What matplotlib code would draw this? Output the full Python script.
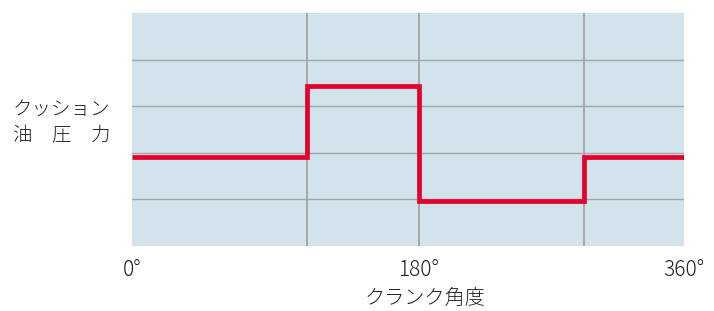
import matplotlib.pyplot as plt
import numpy as np

plt.rcParams['font.family'] = ['Noto Sans CJK JP', 'DejaVu Sans']

# step edges in crank angle (deg) and cushion pressure level between them
edges = [0, 114, 187, 295, 360]
levels = [1.9, 3.43, 0.97, 1.9]

vlines = [114, 187, 295]
hlines = [1, 2, 3, 4]

tick_pos = [0, 187, 360]
tick_labels = ['0°', '180°', '360°']

ylabel = 'クッション\n油\u3000圧\u3000力'
xlabel = 'クランク角度'

bg = '#d2e3eb'
grid_col = '#a3a7a9'
red = '#e5002d'
txt = '#231f20'

fig = plt.figure(figsize=(7.14, 3.11), dpi=100)
ax = fig.add_axes([132 / 714, 1 - 246 / 311, 552 / 714, 233 / 311])
ax.set_facecolor(bg)
ax.set_xlim(0, 360)
ax.set_ylim(0, 5)

for y in hlines:
    ax.axhline(y, color=grid_col, lw=1.0, zorder=1)
for x in vlines:
    ax.axvline(x, color=grid_col, lw=1.4, zorder=1)

# step line
xs = np.array(edges)
ys = np.array(levels + [levels[-1]])
ax.step(xs, ys, where='post', color=red, lw=3.4, zorder=3,
        solid_joinstyle='miter', solid_capstyle='butt')

for s in ax.spines.values():
    s.set_visible(False)
ax.set_yticks([])
ax.set_xticks(tick_pos)
ax.set_xticklabels(tick_labels, fontsize=15, color=txt, fontweight='light')
ax.tick_params(axis='x', length=0, pad=9)

fig.text(13 / 714, 1 - 123 / 311, ylabel, fontsize=14, color=txt,
         ha='left', va='center', linespacing=1.25, fontweight='light')
fig.text(425 / 714, 1 - 298 / 311, xlabel, fontsize=14.5, color=txt,
         ha='center', va='center', fontweight='light')

fig.savefig('out.png', dpi=100)
